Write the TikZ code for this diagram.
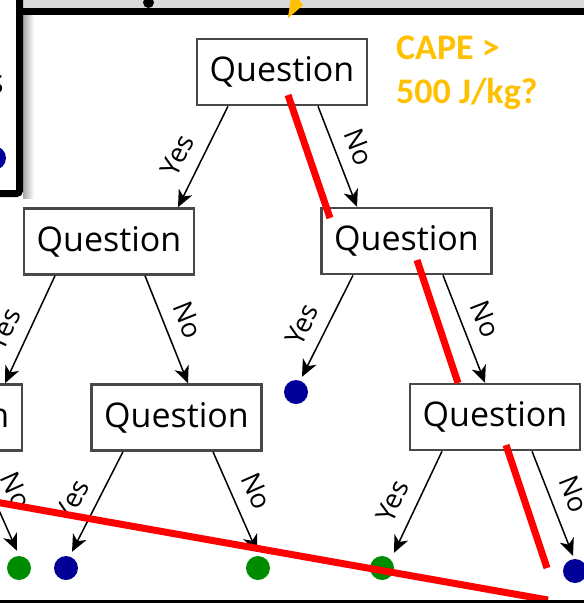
\documentclass[tikz,border=0pt]{standalone}
\usepackage{fontspec}
\setmainfont{Open Sans}
\newfontfamily\capefont{Carlito}
\usetikzlibrary{arrows.meta,calc}
\definecolor{capeorange}{HTML}{FFC000}
\definecolor{leafblue}{HTML}{000096}
\definecolor{leafgreen}{HTML}{008C00}
\definecolor{cutred}{HTML}{FF0000}
\definecolor{boxgray}{HTML}{484848}
\definecolor{bandgray}{HTML}{DADADA}

\begin{document}
\begin{tikzpicture}[x=1pt,y=-1pt,
  qbox/.style={draw=boxgray, line width=2.5pt, fill=white, minimum width=170pt,
    minimum height=66pt, inner sep=0pt, font=\fontsize{34}{40}\selectfont},
  branch/.style={line width=1.5pt, -{Stealth[length=17pt,width=15pt,inset=5pt]}},
  edgelbl/.style={font=\fontsize{27}{32}\selectfont, sloped, inner sep=0pt},
  yeslbl/.style={edgelbl, pos=0.59, above=13pt},
  nolbl/.style={edgelbl, pos=0.49, above=13pt},
  leaf/.style={circle, inner sep=0pt, minimum size=24pt},
  blueleaf/.style={leaf, fill=leafblue},
  greenleaf/.style={leaf, fill=leafgreen},
  cut/.style={draw=cutred, line width=7pt},
  capetext/.style={text=capeorange, inner sep=0pt, anchor=base west,
    font=\capefont\bfseries\fontsize{36}{44}\selectfont},
]
\useasboundingbox (0,0) rectangle (584,603);

% frame of the neighbouring panels
\fill[bandgray] (23,0) rectangle (590,8);
\shade[left color=black!35, right color=white] (23,15) rectangle (34,198);
\draw[line width=7pt, rounded corners=3pt] (-5,193.5) -- (19.5,193.5) -- (19.5,-5);
\fill[black] (16,8) rectangle (590,15);
\node[circle, fill=black, inner sep=0pt, minimum size=11pt] (pin) at (148.5,2.5) {};
\fill[capeorange] (291,-1) -- (298,-1) -- (303,5) -- (288,18) -- cycle;
\node[anchor=east, inner sep=0pt, font=\fontsize{34}{40}\selectfont] (frag) at (4,84) {s};
\node[blueleaf] (l0) at (-6,158) {};

% question boxes
\node[qbox] (q0) at (282,72) {Question};
\node[qbox] (q1) at (109,241.5) {Question};
\node[qbox] (q2) at (406.5,241) {Question};
\node[qbox] (q3) at (-63,417.5) {Question};
\node[qbox] (q4) at (176.5,417.5) {Question};
\node[qbox] (q5) at (495,417) {Question};

% leaves
\node[blueleaf] (l1) at (296,392) {};
\node[greenleaf] (l2) at (19,568) {};
\node[blueleaf] (l3) at (66,568) {};
\node[greenleaf] (l4) at (258,568) {};
\node[greenleaf] (l5) at (382,568) {};
\node[blueleaf] (l6) at (575,571) {};

% branches
\draw[branch] ($(q0.south)+(-54,0)$) -- node[yeslbl]{Yes} ($(q1.north)+(69,0)$);
\draw[branch] ($(q0.south)+(36,0)$) -- node[nolbl]{No} ($(q2.north)+(-49.5,0)$);
\draw[branch] ($(q1.south)+(-54,0)$) -- node[yeslbl]{Yes} ($(q3.north)+(68,0)$);
\draw[branch] ($(q1.south)+(36,0)$) -- node[nolbl]{No} ($(q4.north)+(11.5,0)$);
\draw[branch] ($(q2.south)+(-53.5,0)$) -- node[yeslbl]{Yes} ($(l1.north)+(6,-3)$);
\draw[branch] ($(q2.south)+(36.5,0)$) -- node[nolbl]{No} ($(q5.north)+(-10,0)$);
\draw[branch] ($(q3.south)+(36,0)$) -- node[nolbl]{No} ($(l2.north)+(-2,-5)$);
\draw[branch] ($(q4.south)+(-53.5,0)$) -- node[yeslbl]{Yes} ($(l3.north)+(6,-4)$);
\draw[branch] ($(q4.south)+(36.5,0)$) -- node[nolbl]{No} ($(l4.north)+(-1,-4)$);
\draw[branch] ($(q5.south)+(-53,0)$) -- node[yeslbl]{Yes} ($(l5.north)+(12,-3)$);
\draw[branch] ($(q5.south)+(37,0)$) -- node[nolbl]{No} ($(l6.north)+(-2,-3)$);

% question annotation
\node[capetext] (cape1) at (396,59) {CAPE >};
\node[capetext] (cape2) at (396,103) {500 J/kg?};

% red strokes
\draw[cut] (288,95) -- (330,218);
\draw[cut] (417,260) -- (458,383);
\draw[cut] (506,445) -- (547,568);
\draw[cut] (-10,501) -- (548,600);

\fill[black] (0,599.5) rectangle (590,606);
% pointer tip resting on the panel edge
\fill[capeorange] (291,-1) -- (298,-1) -- (303,5) -- (288,18) -- cycle;
\end{tikzpicture}
\end{document}
